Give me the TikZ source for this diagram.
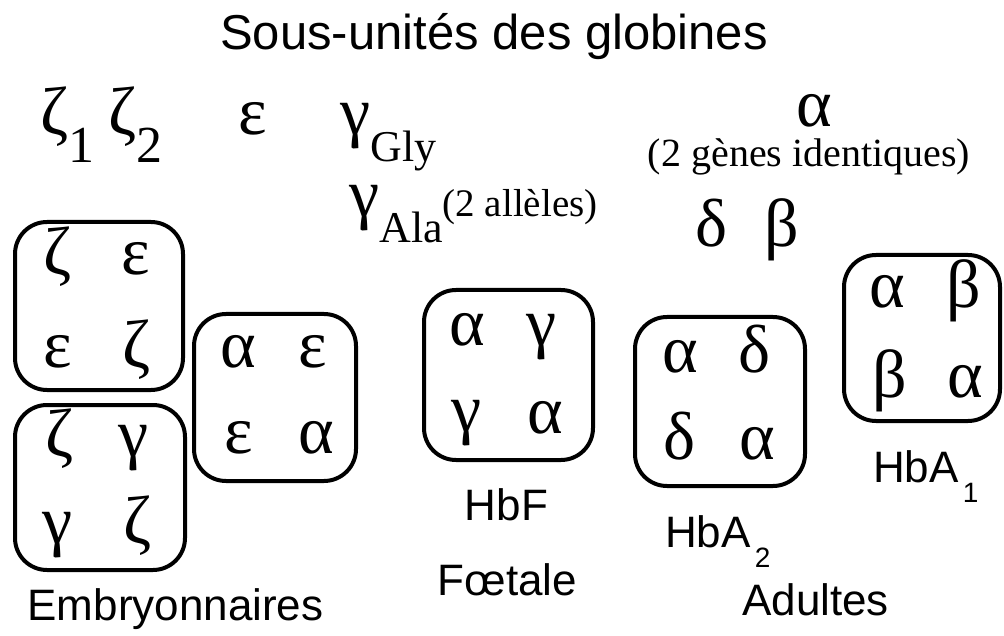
\documentclass[tikz,border=0pt]{standalone}
\usepackage{fontspec}
\setmainfont{Liberation Serif}
\newfontfamily\grk{Liberation Serif}
\newfontfamily\sns{Liberation Sans}
\tikzset{
  gbox/.style={draw, line width=4pt, rounded corners=32pt, inner sep=0pt},
  gk/.style={anchor=base, inner sep=0pt, font=\grk\fontsize{68}{68}\selectfont},
  lab/.style={anchor=base, inner sep=0pt, font=\sns\fontsize{44}{44}\selectfont},
  note/.style={anchor=base, inner sep=0pt, font=\grk\fontsize{40}{40}\selectfont},
}
\begin{document}
\begin{tikzpicture}[x=1pt,y=-1pt]
\useasboundingbox (0,0) rectangle (1004,636);
% title
\node[anchor=base, inner sep=0pt, font=\sns\fontsize{49}{49}\selectfont] (title) at (494,50) {Sous-unités des globines};
% genes
\node[gk, anchor=base west] (z1) at (40,135) {ζ\raisebox{-28pt}{\fontsize{52}{52}\selectfont 1}};
\node[gk, anchor=base west] (z2) at (108,135) {ζ\raisebox{-28pt}{\fontsize{52}{52}\selectfont 2}};
\node[gk] (eps) at (253,135) {ε};
\node[gk, anchor=base west] (ggly) at (340,135) {γ\raisebox{-27pt}{\fontsize{44}{44}\selectfont Gly}};
\node[gk, anchor=base west] (gala) at (349,217) {γ\raisebox{-26pt}{\fontsize{44}{44}\selectfont Ala}\fontsize{39}{39}\selectfont(2 allèles)};
\node[gk] (atop) at (814,127) {α};
\node[note] (ident) at (809,167) {(2 gènes identiques)};
\node[gk] (dtop) at (712,247) {δ};
\node[gk] (btop) at (782,247) {β};
% box 1
\node[gbox, minimum width=168pt, minimum height=168pt] (b1) at (99,306) {};
\node[gk] (b1a) at (58,275) {ζ};
\node[gk] (b1b) at (136,275) {ε};
\node[gk] (b1c) at (58,367) {ε};
\node[gk] (b1d) at (137,367) {ζ};
% box 2
\node[gbox, minimum width=170pt, minimum height=165pt] (b2) at (100,487.5) {};
\node[gk] (b2a) at (60,456) {ζ};
\node[gk] (b2b) at (134,456) {γ};
\node[gk] (b2c) at (58,543) {γ};
\node[gk] (b2d) at (138,543) {ζ};
% box 3
\node[gbox, minimum width=162pt, minimum height=167pt] (b3) at (275,397.5) {};
\node[gk] (b3a) at (238,367) {α};
\node[gk] (b3b) at (313,367) {ε};
\node[gk] (b3c) at (239,453) {ε};
\node[gk] (b3d) at (316,453) {α};
% HbF
\node[gbox, minimum width=169pt, minimum height=170pt] (hbf) at (508.5,375) {};
\node[gk] (fa) at (467,345) {α};
\node[gk] (fb) at (542,345) {γ};
\node[gk] (fc) at (467,431) {γ};
\node[gk] (fd) at (545,433) {α};
% HbA2
\node[gbox, minimum width=170pt, minimum height=169pt] (hba2) at (720,401.5) {};
\node[gk] (a2a) at (680,372) {α};
\node[gk] (a2b) at (755,372) {δ};
\node[gk] (a2c) at (680,459) {δ};
\node[gk] (a2d) at (757,459) {α};
% HbA1
\node[gbox, minimum width=156pt, minimum height=166pt] (hba1) at (922,338) {};
\node[gk] (a1a) at (887,308) {α};
\node[gk] (a1b) at (964,308) {β};
\node[gk] (a1c) at (890,397) {β};
\node[gk] (a1d) at (965,397) {α};
% labels
\node[lab] (embr) at (175.5,620) {Embryonnaires};
\node[lab] (lhbf) at (506.5,520) {HbF};
\node[lab] (foet) at (507.5,595) {Fœtale};
\node[lab, anchor=base west] (lhba2) at (665,547) {HbA\hspace{4pt}\raisebox{-20pt}{\fontsize{28}{28}\selectfont 2}};
\node[lab, anchor=base west] (adul) at (742,615) {Adultes};
\node[lab, anchor=base west] (lhba1) at (873,482) {HbA\hspace{4pt}\raisebox{-20pt}{\fontsize{28}{28}\selectfont 1}};
\end{tikzpicture}
\end{document}
